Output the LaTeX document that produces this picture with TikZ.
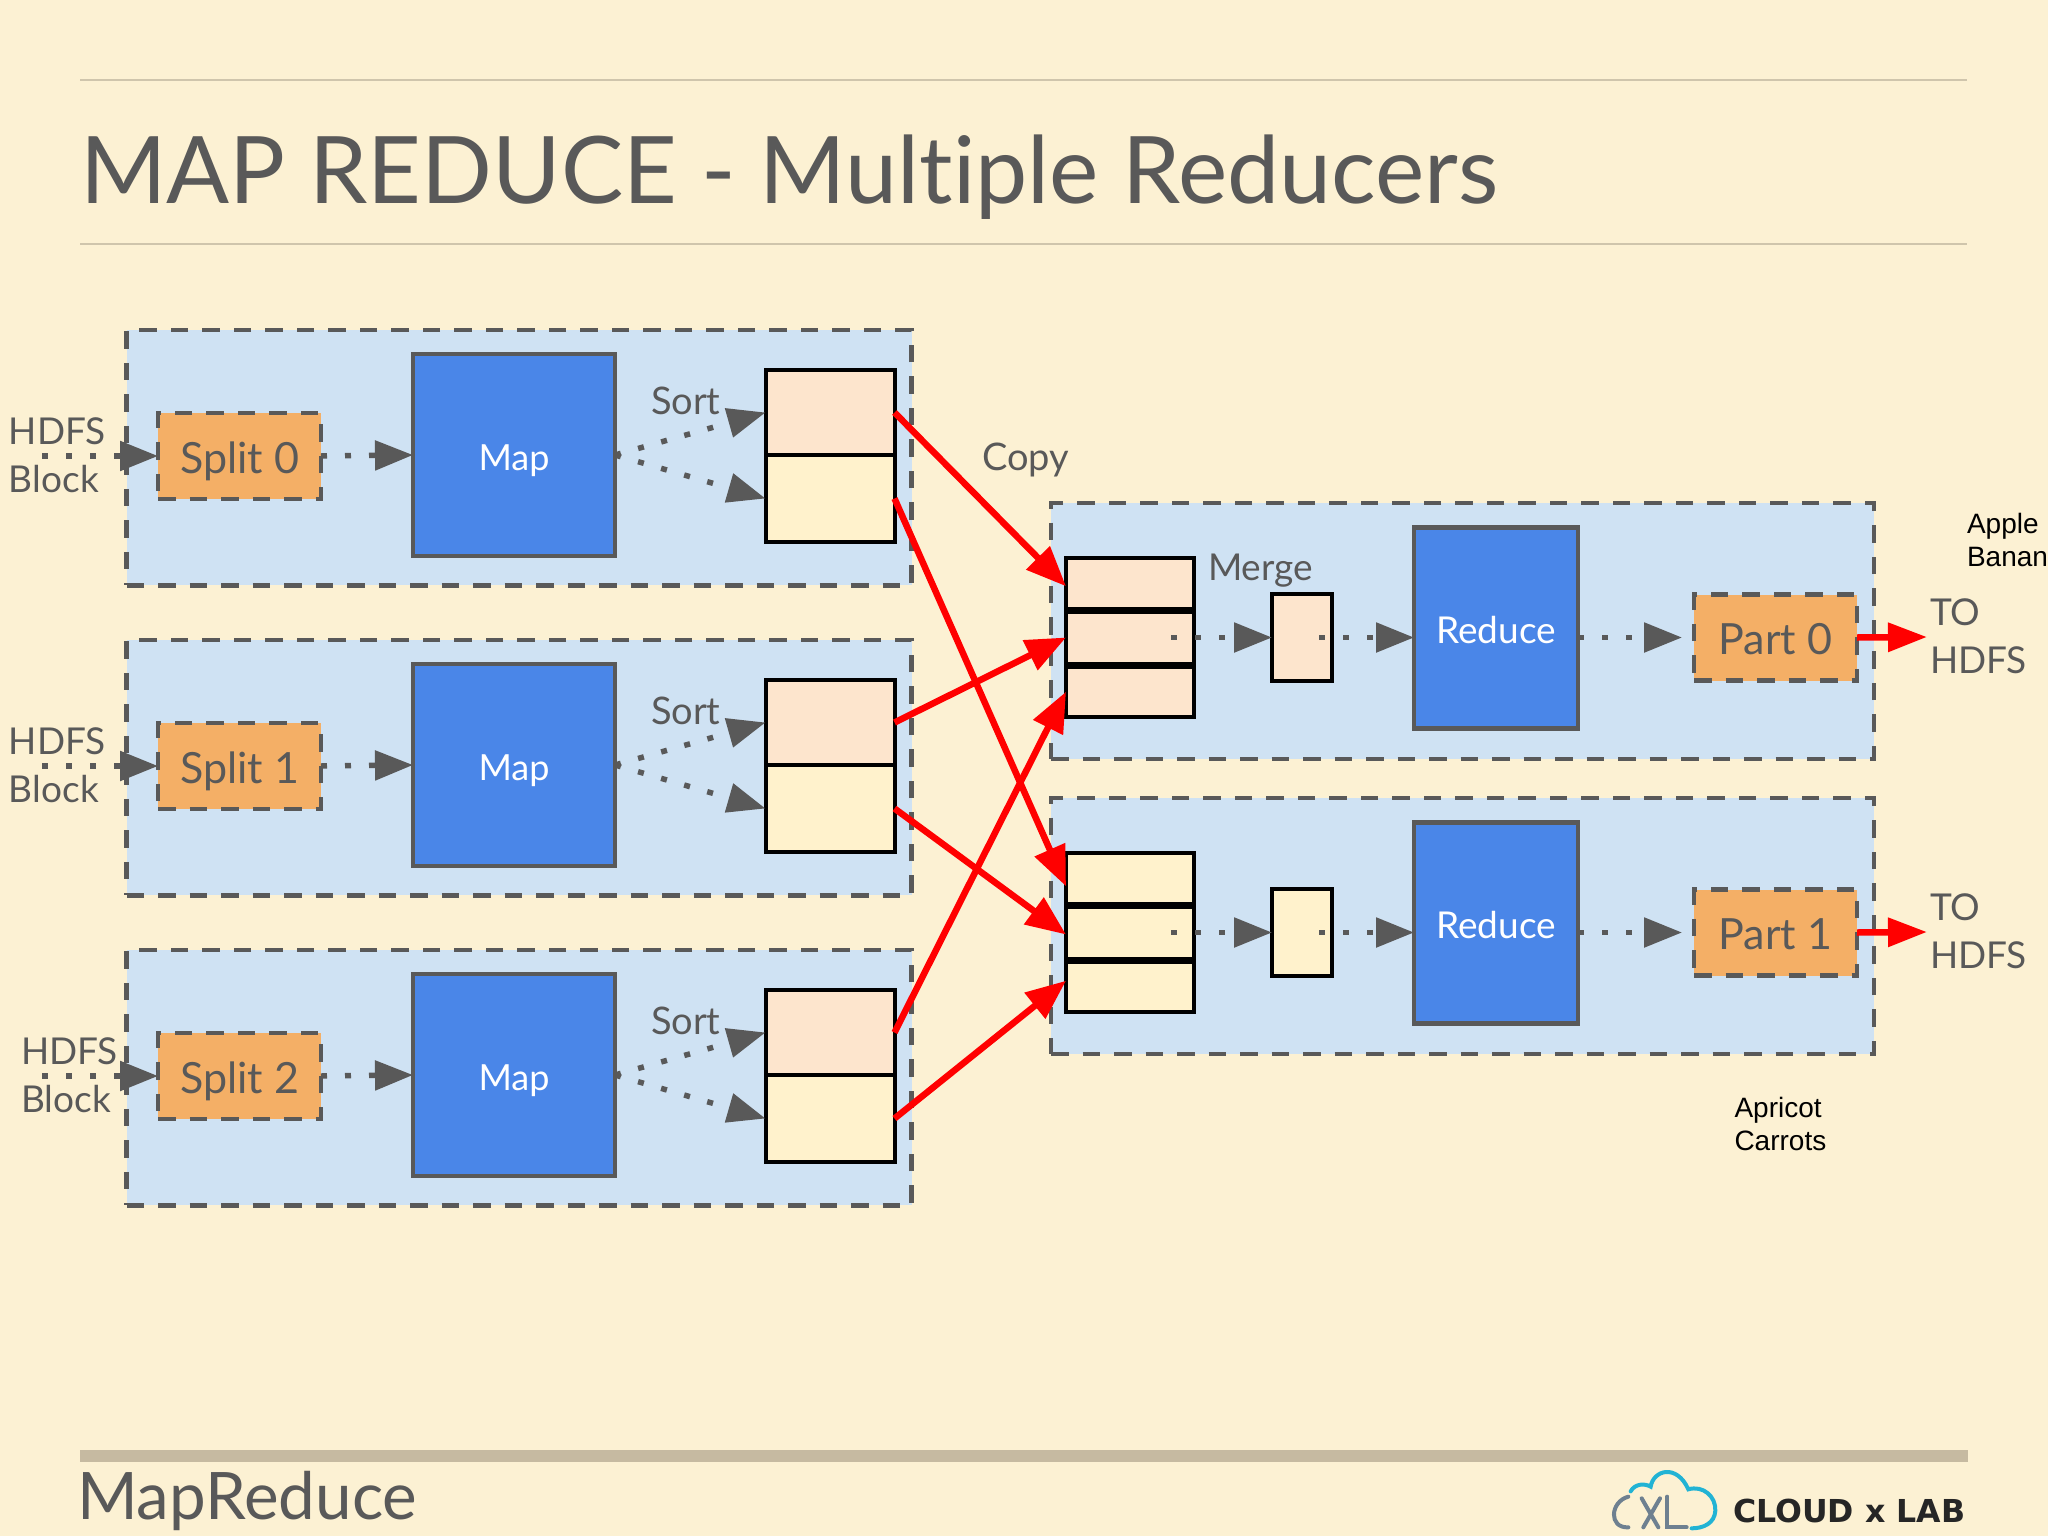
\documentclass[tikz,border=0pt]{standalone}
\usepackage{fontspec}
\setmainfont{Lato}[RawFeature={-liga}]
\newfontfamily\arialf{Liberation Sans}
\newfontfamily\logof{DejaVu Sans}
\usetikzlibrary{arrows.meta}
\definecolor{paper}{HTML}{FCF1D3}
\definecolor{ink}{HTML}{595959}
\definecolor{rulec}{HTML}{CFC5AC}
\definecolor{barc}{HTML}{C6BAA1}
\definecolor{groupc}{HTML}{CFE2F3}
\definecolor{splitc}{HTML}{F4AF66}
\definecolor{taskc}{HTML}{4A86E8}
\definecolor{peach}{HTML}{FDE5CD}
\definecolor{cream}{HTML}{FFF2CC}
\definecolor{logob}{HTML}{22B3D4}
\definecolor{logog}{HTML}{6E8090}
\newcommand{\fsz}[2]{\fontsize{#1}{#2}\selectfont}
\newcommand{\low}[2]{\raisebox{-#1pt}[0pt][0pt]{#2}}
\tikzset{
  x=1pt,y=-1pt,
  lab/.style={inner sep=0pt,outer sep=0pt,text=ink,font=\fsz{38}{38}},
  twoline/.style={lab,align=left,anchor=west,font=\fsz{37}{48}},
  note/.style={inner sep=0pt,outer sep=0pt,text=black,align=left,anchor=west,font={\arialf\fsz{28}{33}}},
  groupbox/.style={fill=groupc,draw=ink,line width=4.5pt,dash pattern=on 17.5pt off 14pt,inner sep=0pt,outer sep=0pt},
  splitbox/.style={fill=splitc,draw=ink,line width=4.5pt,dash pattern=on 17.5pt off 14pt,inner sep=0pt,outer sep=0pt,text=ink,minimum width=163pt,minimum height=86pt,font=\fsz{43}{43}},
  taskbox/.style={fill=taskc,draw=ink,line width=4.5pt,inner sep=0pt,outer sep=0pt,text=white,font=\fsz{36}{36}},
  cellbox/.style={draw=black,line width=4pt,inner sep=0pt,outer sep=0pt},
  flowline/.style={draw=ink,line width=5.5pt,dash pattern=on 6pt off 18pt,-{Triangle[length=38pt,width=29pt,fill=ink]}},
  copyarrow/.style={draw=red,line width=6.5pt,-{Triangle[length=40pt,width=32pt,fill=red]}},
  hdfsarrow/.style={draw=red,line width=6.5pt,-{Triangle[length=39pt,width=28pt,fill=red]}},
}
\begin{document}
\begin{tikzpicture}
\useasboundingbox (0,0) rectangle (2048,1536);
\fill[paper] (0,0) rectangle (2048,1536);
% header / footer rules
\coordinate (ra) at (80,80); \coordinate (rb) at (1967,80);
\coordinate (rc) at (80,244); \coordinate (rd) at (1967,244);
\coordinate (re) at (80,1456); \coordinate (rf) at (1968,1456);
\draw[rulec,line width=1.5pt] (ra) -- (rb);
\draw[rulec,line width=1.5pt] (rc) -- (rd);
\draw[barc,line width=12pt] (re) -- (rf);
\node[lab,anchor=base west,font=\fsz{93.2}{93.2}] (title) at (80,203) {MAP REDUCE - Multiple Reducers};
\node[lab,anchor=base west,font=\fsz{65.5}{65.5}] (foot) at (77,1519) {MapReduce};
% map rows
\foreach \r/\dy/\hx in {0/0/9,1/310/9,2/620/21}{
  \node[groupbox,minimum width=785pt,minimum height=255.5pt] (g\r) at (519,{457.7+\dy}) {};
  \node[splitbox] (split\r) at (239.5,{456+\dy}) {\low{17}{Split \r}};
  \node[taskbox,minimum width=202pt,minimum height=202pt] (map\r) at (514,{455+\dy}) {\low{15.5}{Map}};
  \node[cellbox,fill=peach,minimum width=129pt,minimum height=85pt] (outa\r) at (830,{412.5+\dy}) {};
  \node[cellbox,fill=cream,minimum width=129pt,minimum height=87pt] (outb\r) at (830,{498.5+\dy}) {};
  \node[twoline] (hdfs\r) at (\hx,{455+\dy}) {HDFS\\Block};
  \node[lab,anchor=base west] (sort\r) at (651,{414+\dy}) {Sort};
  \coordinate (in\r) at (42,{456+\dy});
  \draw[flowline] (in\r) -- (split\r.west);
  \draw[flowline] (split\r.east) -- (map\r.west);
  \draw[flowline] (map\r.east) -- (outa\r.west);
  \draw[flowline] (map\r.east) -- (outb\r.west);
}
% reduce rows
\foreach \r/\dy/\colr in {0/0/peach,1/295/cream}{
  \node[groupbox,minimum width=823pt,minimum height=256pt] (h\r) at (1462.5,{631+\dy}) {};
  \node[cellbox,fill=\colr,minimum width=128pt,minimum height=50.5pt] (sta\r) at (1130,{583.25+\dy}) {};
  \node[cellbox,fill=\colr,minimum width=128pt,minimum height=52pt] (stb\r) at (1130,{637.5+\dy}) {};
  \node[cellbox,fill=\colr,minimum width=128pt,minimum height=50.5pt] (stc\r) at (1130,{691.75+\dy}) {};
  \node[cellbox,fill=\colr,minimum width=60pt,minimum height=87pt] (merged\r) at (1302,{637.5+\dy}) {};
  \node[taskbox,minimum width=164pt,minimum height=201pt,font=\fsz{37}{37}] (red\r) at (1496,{628+\dy}) {\low{15.5}{Reduce}};
  \node[splitbox] (part\r) at (1775.5,{637.5+\dy}) {\low{17}{Part \r}};
  \node[twoline] (tohdfs\r) at (1930,{636+\dy}) {TO\\HDFS};
  \draw[flowline] ([xshift=-23pt]stb\r.east) -- (merged\r.west);
  \draw[flowline] ([xshift=-13pt]merged\r.east) -- (red\r.west |- merged\r.east);
  \draw[flowline] (red\r.east |- part\r.west) -- ([xshift=-12pt]part\r.west);
  \coordinate (toout\r) at (1927,{637+\dy});
  \draw[hdfsarrow] (part\r.east) -- (toout\r);
}
\node[lab,anchor=base west] (copy) at (982,470) {Copy};
\node[lab,anchor=base west,font=\fsz{37}{37}] (merge) at (1208,580) {Merge};
\node[note] (n1) at (1967,540) {Apple\\Banan};
\node[note] (n2) at (1734.5,1124) {Apricot\\Carrots};
% shuffle arrows
\draw[copyarrow] (outa0.east) -- ([yshift=-3pt]sta0.west);
\draw[copyarrow] (outb0.east) -- ([yshift=-8pt]sta1.west);
\draw[copyarrow] (outa1.east) -- (stb0.west);
\draw[copyarrow] (outb1.east) -- ([yshift=-2pt]stb1.west);
\draw[copyarrow] (outa2.east) -- (stc0.west);
\draw[copyarrow] (outb2.east) -- ([yshift=6pt]stc1.west);
% logo
\begin{scope}[shift={(1560,1420)},x=0.3333pt,y=-0.3333pt,line cap=round]
  \draw[logob,line width=4pt] (212,214) .. controls (225,190) and (255,190) .. (272,200)
    .. controls (280,150) and (350,130) .. (385,208)
    .. controls (430,195) and (468,230) .. (466,272)
    .. controls (464,310) and (430,325) .. (395,325);
  \draw[logog,line width=4pt] (205,230) .. controls (150,245) and (145,325) .. (205,322);
  \draw[logog,line width=4pt] (245,235) -- (295,322);
  \draw[logog,line width=4pt] (300,235) -- (250,322);
  \draw[logog,line width=4pt] (322,230) -- (322,322) -- (380,322);
\end{scope}
\node[inner sep=0pt,anchor=base west,text=black!85,font={\logof\bfseries\fsz{31.6}{31.6}}] (logo) at (1733,1522) {CLOUD x LAB};
\end{tikzpicture}
\end{document}
